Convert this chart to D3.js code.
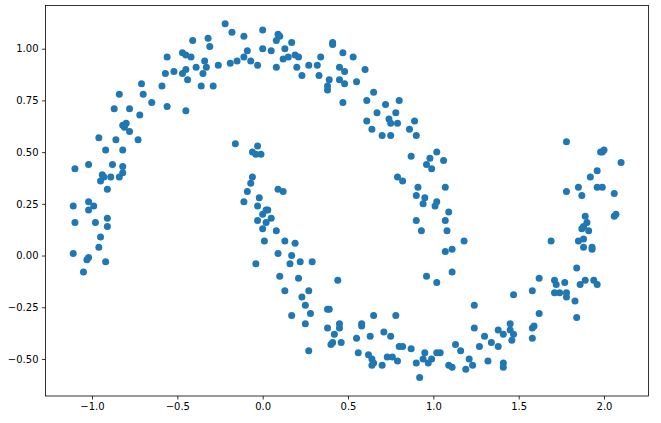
<!DOCTYPE html>
<html>
<head>
<meta charset="utf-8">
<script src="https://cdn.jsdelivr.net/npm/d3@7"></script>
<style>
  body { margin: 0; background: #fff; }
  svg { display: block; font-family: "DejaVu Sans", sans-serif; }
</style>
</head>
<body>
<svg width="661" height="423"></svg>
<script>
// two interleaving half moons, [x, y]
var moonPoints = [
  [-0.41,1.04],[-0.56,0.96],[-0.47,0.98],[-0.45,0.97],[-0.42,0.96],[-0.39,0.91],[-0.45,0.90],[-0.52,0.89],
  [-0.57,0.88],[-0.47,0.88],[-0.44,0.85],[-0.71,0.83],[-0.59,0.82],[-0.84,0.78],[-0.70,0.78],[-0.65,0.74],
  [-0.56,0.72],[-0.87,0.71],[-0.78,0.71],[-0.45,0.70],[-0.72,0.68],[-0.80,0.64],[-0.82,0.63],[-0.81,0.62],
  [-0.78,0.60],[-0.96,0.57],[-0.86,0.56],[-0.73,0.56],[-0.92,0.51],[-0.82,0.51],[-1.10,0.42],[-1.02,0.44],
  [-0.88,0.44],[-0.82,0.43],[-0.94,0.39],[-0.93,0.38],[-0.95,0.36],[-0.89,0.38],[-0.84,0.38],[-0.82,0.40],
  [-0.91,0.32],[-1.02,0.26],[-1.11,0.24],[-0.99,0.24],[-1.02,0.22],[-1.10,0.16],[-0.98,0.16],[-0.91,0.18],
  [-0.91,0.14],[-0.95,0.09],[-0.96,0.04],[-1.11,0.01],[-1.02,-0.01],[-1.03,-0.02],[-0.92,-0.03],[-1.05,-0.08],
  [-0.22,1.12],[-0.18,1.08],[-0.11,1.06],[0.00,1.09],[0.09,1.07],[0.10,1.06],[0.08,1.04],[0.17,1.03],
  [-0.32,1.05],[-0.31,1.01],[-0.09,0.99],[0.00,1.00],[0.05,0.99],[0.13,1.00],[0.41,1.03],[0.41,1.02],
  [0.47,0.98],[-0.34,0.94],[-0.11,0.96],[-0.07,0.94],[-0.03,0.92],[-0.15,0.94],[-0.19,0.93],[-0.26,0.92],
  [-0.33,0.91],[-0.35,0.88],[-0.36,0.82],[-0.29,0.82],[0.12,0.95],[0.15,0.96],[0.19,0.97],[0.21,0.96],
  [0.08,0.91],[0.20,0.91],[0.23,0.87],[0.27,0.92],[0.32,0.92],[0.34,0.96],[0.33,0.87],[0.39,0.85],
  [0.38,0.82],[0.38,0.80],[0.45,0.91],[0.48,0.89],[0.45,0.85],[0.48,0.83],[0.47,0.74],[0.53,0.96],
  [0.60,0.90],[0.55,0.84],[0.65,0.79],[0.61,0.75],[0.72,0.73],[0.80,0.75],[0.67,0.69],[0.78,0.69],
  [0.61,0.65],[0.74,0.66],[0.75,0.64],[0.79,0.64],[0.89,0.65],[0.64,0.61],[0.86,0.61],[0.70,0.58],
  [0.75,0.58],[0.90,0.58],[1.02,0.50],[0.87,0.48],[0.98,0.47],[1.06,0.46],[0.96,0.44],[0.99,0.42],
  [0.79,0.38],[0.82,0.36],[0.91,0.33],[1.07,0.33],[0.90,0.29],[0.95,0.28],[1.02,0.26],[1.01,0.24],
  [0.94,0.25],[1.09,0.21],[0.90,0.17],[1.07,0.17],[0.93,0.12],[1.08,0.12],[1.18,0.07],[1.07,0.02],
  [1.11,0.03],[1.78,0.55],[1.98,0.50],[1.99,0.50],[2.00,0.51],[2.10,0.45],[1.96,0.41],[1.92,0.38],
  [1.78,0.31],[1.85,0.33],[1.87,0.29],[1.96,0.33],[1.99,0.33],[2.06,0.30],[1.89,0.19],[1.90,0.16],
  [1.88,0.14],[1.87,0.13],[1.91,0.12],[2.06,0.19],[2.07,0.20],[1.69,0.07],[1.85,0.07],[1.88,0.08],
  [1.88,0.04],[1.93,0.04],[1.93,0.03],[-0.16,0.54],[-0.03,0.53],[-0.06,0.50],[-0.04,0.49],[-0.01,0.49],
  [-0.06,0.38],[-0.07,0.35],[-0.09,0.31],[-0.11,0.26],[-0.02,0.28],[-0.03,0.24],[0.09,0.32],[0.12,0.31],
  [0.02,0.22],[0.03,0.22],[0.00,0.20],[0.05,0.18],[0.02,0.16],[-0.03,0.17],[0.00,0.13],[0.08,0.12],
  [0.01,0.07],[0.13,0.07],[0.19,0.06],[0.09,0.01],[0.17,0.00],[-0.04,-0.04],[0.16,-0.04],[0.22,-0.03],
  [0.29,-0.03],[0.10,-0.10],[0.21,-0.11],[0.44,-0.12],[0.13,-0.17],[0.27,-0.17],[0.23,-0.20],[0.25,-0.24],
  [0.38,-0.26],[0.39,-0.26],[0.17,-0.29],[0.28,-0.28],[0.25,-0.33],[0.45,-0.33],[0.45,-0.35],[0.38,-0.35],
  [0.42,-0.38],[0.41,-0.42],[0.40,-0.43],[0.46,-0.42],[0.27,-0.46],[0.96,-0.10],[1.02,-0.13],[1.11,-0.08],
  [0.65,-0.29],[0.78,-0.29],[0.58,-0.34],[0.58,-0.33],[0.55,-0.40],[0.63,-0.39],[0.71,-0.37],[0.75,-0.39],
  [1.24,-0.24],[1.24,-0.35],[1.30,-0.39],[1.34,-0.42],[1.38,-0.44],[1.38,-0.36],[1.13,-0.43],[1.16,-0.46],
  [1.27,-0.44],[0.80,-0.44],[0.82,-0.44],[0.87,-0.45],[0.56,-0.47],[0.62,-0.48],[0.64,-0.50],[0.65,-0.52],
  [0.64,-0.53],[0.70,-0.53],[0.73,-0.49],[0.76,-0.49],[0.79,-0.51],[0.90,-0.52],[0.94,-0.50],[0.95,-0.47],
  [0.97,-0.52],[0.99,-0.50],[1.02,-0.47],[1.04,-0.47],[1.09,-0.53],[1.11,-0.54],[1.21,-0.50],[1.23,-0.53],
  [1.19,-0.55],[1.32,-0.51],[0.92,-0.59],[1.84,-0.06],[1.62,-0.11],[1.71,-0.12],[1.72,-0.14],[1.77,-0.13],
  [1.89,-0.12],[1.94,-0.12],[1.86,-0.14],[1.96,-0.14],[1.58,-0.17],[1.47,-0.19],[1.71,-0.18],[1.74,-0.18],
  [1.78,-0.18],[1.78,-0.20],[1.83,-0.22],[1.84,-0.30],[1.62,-0.28],[1.45,-0.33],[1.45,-0.36],[1.41,-0.38],
  [1.47,-0.38],[1.46,-0.41],[1.58,-0.35],[1.59,-0.34],[1.58,-0.40],[1.41,-0.52],[1.41,-0.54]
];

var xTicks = [-1.0, -0.5, 0.0, 0.5, 1.0, 1.5, 2.0];
var yTicks = [-0.50, -0.25, 0.00, 0.25, 0.50, 0.75, 1.00];

function draw() {
    var svg = d3.select('svg');
    var plotLeft = 45.5, plotRight = 648.5, plotTop = 5.5, plotBottom = 396;

    var x = d3.scaleLinear()
        .domain([-1.2725, 2.2607])
        .range([plotLeft, plotRight]);
    var y = d3.scaleLinear()
        .domain([-0.679, 1.2088])
        .range([plotBottom, plotTop]);

    function fmt(d, n) {
        return d3.format('.' + n + 'f')(d).replace('-', '\u2212');
    }

    // points
    svg.append('g')
        .selectAll('circle')
        .data(moonPoints)
        .enter()
        .append('circle')
        .attr('cx', function(d){ return x(d[0]); })
        .attr('cy', function(d){ return y(d[1]); })
        .attr('r', 3.5)
        .attr('fill', '#1f77b4');

    // axes
    var xAxis = svg.append('g')
        .attr('transform', 'translate(0,' + plotBottom + ')')
        .call(d3.axisBottom(x).tickValues(xTicks).tickSize(3.5).tickPadding(3.5)
            .tickFormat(function(d){ return fmt(d, 1); }));
    var yAxis = svg.append('g')
        .attr('transform', 'translate(' + plotLeft + ',0)')
        .call(d3.axisLeft(y).tickValues(yTicks).tickSize(3.5).tickPadding(3.5)
            .tickFormat(function(d){ return fmt(d, 2); }));

    [xAxis, yAxis].forEach(function(a){
        a.select('.domain').remove();
        a.selectAll('line').attr('stroke', '#000').attr('stroke-width', 0.8);
        a.selectAll('text')
            .attr('fill', '#000')
            .style('font-family', '"DejaVu Sans", sans-serif')
            .style('font-size', '10px');
    });

    // frame
    svg.append('rect')
        .attr('x', plotLeft)
        .attr('y', plotTop)
        .attr('width', plotRight - plotLeft)
        .attr('height', plotBottom - plotTop)
        .attr('fill', 'none')
        .attr('stroke', '#000')
        .attr('stroke-width', 0.8);
}

draw();
</script>
</body>
</html>
